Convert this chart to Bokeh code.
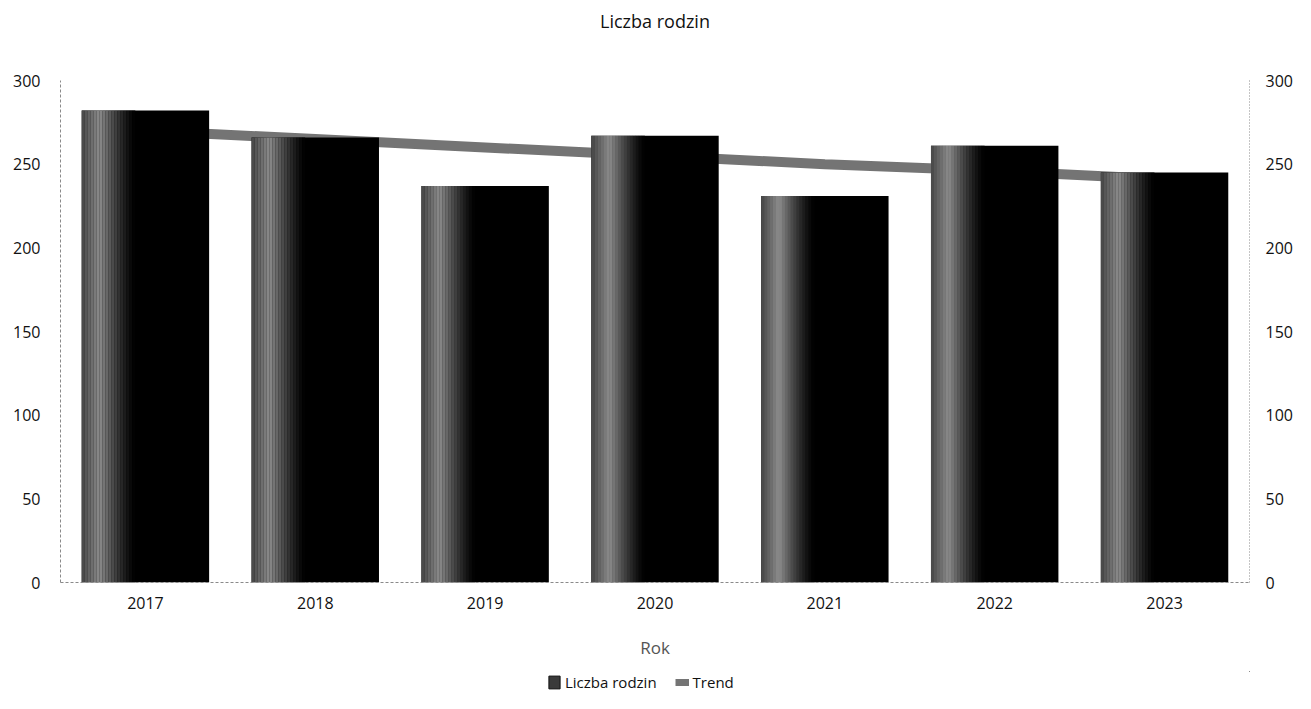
from bokeh.plotting import figure
from bokeh.layouts import column
from bokeh.models import (ColumnDataSource, LinearAxis, Range1d, Legend, LegendItem,
                          FixedTicker, Label)
from bokeh.transform import dodge
from bokeh.embed import file_html
from bokeh.resources import INLINE

years = ["2017", "2018", "2019", "2020", "2021", "2022", "2023"]
families = [282, 266, 237, 267, 231, 261, 245]
trend = [270, 265, 260, 255, 250, 246, 241]

title_text = "Liczba rodzin"
x_label = "Rok"
series_names = ["Liczba rodzin", "Trend"]
y_ticks = [0, 50, 100, 150, 200, 250, 300]

src = ColumnDataSource(dict(year=years, val=families, trend=trend))

W = 1295

# ---- title strip
tf = figure(width=W, height=40, x_range=Range1d(0, 1), y_range=Range1d(0, 1),
            output_backend="svg", toolbar_location=None, min_border=0)
tf.axis.visible = False
tf.grid.visible = False
tf.outline_line_color = None
tf.add_layout(Label(x=0.5, y=0.5, text=title_text, text_align="center", text_baseline="middle",
                    text_font="Open Sans", text_font_size="18px", text_color="#111111"))

# ---- main chart
p = figure(x_range=years, y_range=Range1d(0, 300), width=W, height=631,
           output_backend="svg", toolbar_location=None,
           min_border_left=60, min_border_right=43, min_border_top=40, min_border_bottom=89)
p.background_fill_color = "white"
p.border_fill_color = "white"
p.outline_line_color = None
p.xgrid.grid_line_color = None
p.ygrid.grid_line_color = None

trend_r = p.line(x="year", y="trend", source=src, line_color="#747474", line_width=10)

bw = 0.75
bars = p.vbar(x="year", top="val", width=bw, source=src, fill_color="black", line_color=None)
n = 18
span = 0.42
sw = bw * span / n
for i in range(n):
    t = (i + 0.5) / n * span
    if t < 0.14:
        g = 70 + (140 - 70) * t / 0.14
    else:
        g = 140 * max(0.0, 1 - (t - 0.14) / (span - 0.14)) ** 1.3
    g = int(g)
    off = -bw / 2 + (i + 0.5) * sw
    p.vbar(x=dodge("year", off, range=p.x_range), top="val", width=sw * 1.05, source=src,
           fill_color=(g, g, g), line_color=None)

p.yaxis.ticker = FixedTicker(ticks=y_ticks)
for ax in [p.yaxis[0], p.xaxis[0]]:
    ax.axis_line_color = "#8a8a8a"
    ax.axis_line_dash = "3 2"
    ax.major_tick_line_color = None
    ax.minor_tick_line_color = None
    ax.major_label_text_font = "Open Sans"
    ax.major_label_text_font_size = "16px"
    ax.major_label_text_color = "#111111"
p.yaxis.major_label_standoff = 14
p.xaxis.major_label_standoff = 8

p.xaxis.axis_label = x_label
p.xaxis.axis_label_text_font = "Open Sans"
p.xaxis.axis_label_text_font_size = "17px"
p.xaxis.axis_label_text_font_style = "normal"
p.xaxis.axis_label_text_color = "#555555"
p.xaxis.axis_label_standoff = 24

ry = LinearAxis(ticker=FixedTicker(ticks=y_ticks))
ry.axis_line_color = "#8a8a8a"
ry.axis_line_dash = "1 2"
ry.major_tick_line_color = None
ry.minor_tick_line_color = None
ry.major_label_text_font = "Open Sans"
ry.major_label_text_font_size = "16px"
ry.major_label_text_color = "#111111"
ry.major_label_standoff = 10
p.add_layout(ry, "right")

# ---- legend strip (swatch glyphs sit outside the visible range)
lf = figure(width=W, height=22, x_range=Range1d(0, 1), y_range=Range1d(0, 1),
            output_backend="svg", toolbar_location=None, min_border=0)
lf.axis.visible = False
lf.grid.visible = False
lf.outline_line_color = None
hidden = ColumnDataSource(dict(x=[5, 6], y=[5, 6]))
sw_bar = lf.vbar(x="x", top="y", bottom=4, width=0.5, source=hidden, fill_color="#3a3a3a",
                 line_color="#111111")
sw_line = lf.line(x="x", y="y", source=hidden, line_color="#747474", line_width=7)
legend = Legend(items=[LegendItem(label=series_names[0], renderers=[sw_bar]),
                       LegendItem(label=series_names[1], renderers=[sw_line])],
                orientation="horizontal", location=(487, 1),
                label_text_font="Open Sans", label_text_font_size="15px",
                label_text_color="#111111",
                label_height=16, label_standoff=4,
                glyph_width=14, glyph_height=16, spacing=18, padding=1, margin=0,
                border_line_color=None, background_fill_alpha=0)
lf.add_layout(legend, "center")

layout = column(tf, p, lf, spacing=0)
open("out.html", "w").write(file_html(layout, INLINE))
